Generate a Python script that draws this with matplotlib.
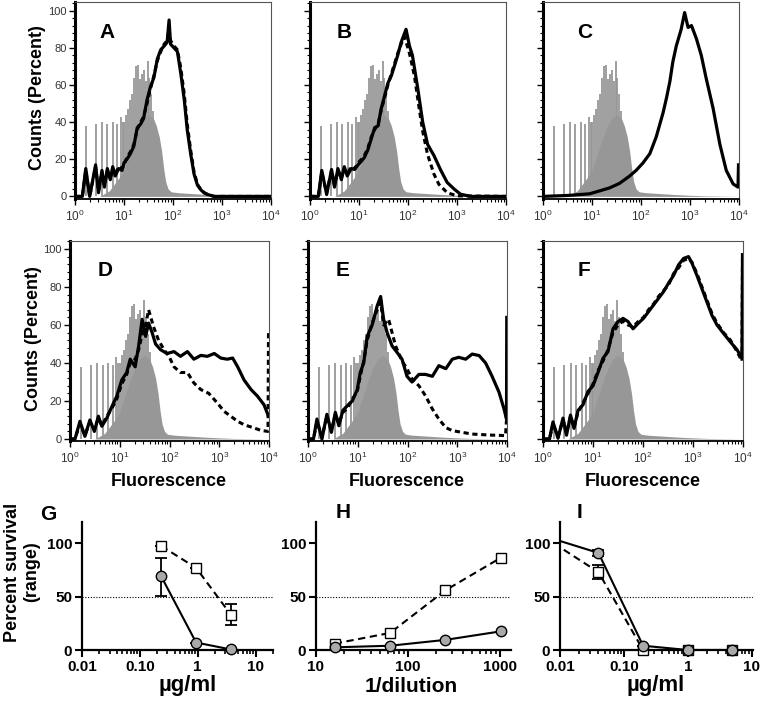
import numpy as np
import matplotlib
matplotlib.use("Agg")
import matplotlib.pyplot as plt
from matplotlib.ticker import LogLocator, NullFormatter, FixedLocator, FixedFormatter, MultipleLocator

# ---- flow histograms: log10(fluorescence) and counts (percent) ----
# shaded control histogram (same in every panel): smooth body + comb of spikes
ctrl_lx = [0.00, 0.50, 0.70, 0.90, 1.00, 1.10, 1.20, 1.30, 1.40, 1.50, 1.60, 1.66, 1.72, 1.77,
           1.81, 1.85, 1.90, 1.96, 2.10, 2.40, 2.70, 3.00, 3.30, 4.00]
ctrl_y = [0, 0, 3, 10, 14, 22, 30, 37, 42, 44, 42, 38, 32, 24, 15, 8, 4, 2.5, 2, 1.5, 1, 0.6,
          0.3, 0]
spike_lx = [0.22, 0.42, 0.55, 0.66, 0.77, 0.86, 0.93, 0.97, 1.00, 1.04, 1.08, 1.12, 1.16, 1.20,
            1.24, 1.28, 1.32, 1.36, 1.40, 1.44, 1.48, 1.52, 1.56, 1.60]
spike_h = [38, 39, 40, 39, 40, 39, 43, 40, 40, 44, 47, 52, 55, 64, 70, 71, 63, 66, 68, 62, 73,
           64, 55, 46]

a_lx = [0.00, 0.15, 0.22, 0.30, 0.42, 0.48, 0.55, 0.60, 0.66, 0.72, 0.77, 0.82, 0.89, 0.96, 1.00,
        1.06, 1.13, 1.20, 1.27, 1.34, 1.40, 1.47, 1.54, 1.61, 1.68, 1.75, 1.82, 1.88, 1.92, 1.95,
        2.02, 2.09, 2.16, 2.23, 2.29, 2.36, 2.43, 2.50, 2.57, 2.64, 2.71, 2.84, 4.00]
a_solid = [0, 0, 15, 0, 17, 2, 14, 5, 15, 9, 16, 11, 15, 14, 18, 20, 23, 27, 37, 39, 42, 52, 59,
           64, 74, 79, 81, 83, 95, 82, 80, 78, 66, 52, 36, 23, 12, 6, 3.5, 1.8, 1, 0, 0]
a_dash = [0, 0, 14, 0, 16, 3, 13, 6, 14, 10, 15, 12, 16, 15, 17, 21, 24, 28, 36, 40, 43, 50, 58,
          65, 73, 78, 82, 84, 90, 84, 81, 79, 69, 55, 39, 25, 13, 6.5, 3.5, 2, 1, 0, 0]

b_lx = [0.00, 0.17, 0.24, 0.34, 0.44, 0.50, 0.57, 0.64, 0.70, 0.76, 0.84, 0.91, 0.98, 1.05, 1.11,
        1.18, 1.25, 1.32, 1.39, 1.45, 1.52, 1.59, 1.66, 1.72, 1.79, 1.86, 1.96, 2.03, 2.09, 2.20,
        2.30, 2.40, 2.53, 2.67, 2.80, 2.94, 3.07, 3.28, 4.00]
b_solid = [0, 0, 14, 1, 14.5, 5, 15, 9, 16, 11, 15, 14.5, 17, 19, 21, 25, 31, 37, 38, 47, 54, 61,
           65, 70, 76, 83, 90, 81, 76, 58, 40, 28, 22, 14, 7.5, 4, 1.2, 0, 0]
b_dash_lx = [0.00, 0.17, 0.24, 0.34, 0.44, 0.50, 0.57, 0.64, 0.70, 0.76, 0.84, 0.91, 0.98, 1.05,
             1.11, 1.18, 1.25, 1.32, 1.39, 1.45, 1.52, 1.59, 1.66, 1.72, 1.79, 1.86, 1.93, 2.03,
             2.13, 2.23, 2.30, 2.40, 2.53, 2.63, 2.80, 3.00, 4.00]
b_dash = [0, 0, 13, 2, 14, 6, 14, 10, 15, 12, 16, 15, 18, 20, 22, 26, 32, 36, 39, 46, 53, 60, 66,
          71, 77, 82, 86, 77, 65, 47, 35, 22.5, 12, 6.5, 2, 0.3, 0]

c_lx = [0.00, 0.50, 0.95, 1.16, 1.36, 1.56, 1.77, 1.90, 2.04, 2.18, 2.31, 2.45, 2.52, 2.59, 2.65,
        2.72, 2.82, 2.89, 2.96, 3.03, 3.13, 3.23, 3.33, 3.47, 3.61, 3.74, 3.88, 3.98, 3.99]
c_solid = [0, 0.5, 1.4, 3, 4.6, 7, 11, 14, 18, 23, 32, 45, 53, 62, 72.5, 81, 90, 99, 91, 92,
           85, 76, 63.6, 47.6, 28, 14, 6.7, 5, 17]

d_lx = [0.00, 0.10, 0.20, 0.30, 0.40, 0.49, 0.57, 0.64, 0.74, 0.84, 0.94, 1.04, 1.14, 1.21, 1.31,
        1.38, 1.45, 1.52, 1.58, 1.65, 1.72, 1.82, 1.95, 2.09, 2.22, 2.36, 2.49, 2.63, 2.76, 2.90,
        3.03, 3.16, 3.27, 3.37, 3.50, 3.64, 3.77, 3.90, 3.99]
d_solid = [0, 0, 9.3, 1.4, 10, 4, 12, 6.7, 11, 17, 22.5, 31, 35, 42, 38, 49, 63, 54, 61, 56, 50,
           47, 45, 46, 43.5, 46, 42, 44, 43.5, 45, 42.6, 42, 42.6, 38, 31, 26, 22.5, 18, 12]
d_dash_lx = [0.00, 0.10, 0.20, 0.30, 0.40, 0.49, 0.57, 0.64, 0.74, 0.84, 0.94, 1.04, 1.14, 1.21,
             1.31, 1.38, 1.45, 1.52, 1.58, 1.68, 1.78, 1.89, 1.99, 2.09, 2.22, 2.36, 2.49, 2.63,
             2.79, 2.96, 3.10, 3.23, 3.37, 3.50, 3.70, 3.84, 3.98, 3.99]
d_dash = [0, 0, 8, 2, 9, 5, 11, 7, 12, 16, 21, 29, 34, 40, 42, 47, 55, 60, 68, 59, 52, 47, 43.5,
          38, 35, 35, 29.5, 26, 24, 19, 14.5, 12, 9.3, 7.5, 5.8, 4.5, 4, 56]

e_lx = [0.00, 0.11, 0.18, 0.28, 0.38, 0.47, 0.55, 0.62, 0.70, 0.79, 0.89, 0.99, 1.05, 1.12, 1.19,
        1.29, 1.39, 1.46, 1.52, 1.59, 1.69, 1.79, 1.89, 1.99, 2.09, 2.23, 2.36, 2.50, 2.63, 2.77,
        2.90, 3.03, 3.17, 3.30, 3.44, 3.57, 3.70, 3.84, 3.94, 3.99, 3.995]
e_solid = [0, 0, 10.5, 0, 13, 3.5, 14, 7, 15, 17.5, 20, 26, 35, 40, 54, 60, 70, 75, 63, 56, 49,
           45.6, 42, 33, 30, 34, 34, 33, 38.6, 37, 42, 43, 42, 44.7, 43.9, 40, 33, 24.6, 15.8,
           10.5, 64]
e_dash_lx = [0.00, 0.11, 0.18, 0.28, 0.38, 0.47, 0.55, 0.62, 0.70, 0.79, 0.89, 0.99, 1.05, 1.12,
             1.19, 1.29, 1.39, 1.46, 1.52, 1.62, 1.76, 1.89, 1.99, 2.09, 2.23, 2.36, 2.50, 2.63,
             2.77, 2.90, 3.10, 3.30, 3.64, 3.97, 3.99]
e_dash = [0, 0, 9, 1, 12, 4, 13, 8, 14, 16, 21, 25, 33, 41, 52, 61, 68, 72, 60, 63, 49, 41, 37,
          31.6, 28, 22.8, 15.8, 10.5, 6, 4.4, 3.5, 2.6, 2.1, 1.8, 10]

f_lx = [0.00, 0.13, 0.20, 0.30, 0.40, 0.47, 0.55, 0.62, 0.70, 0.80, 0.90, 1.00, 1.10, 1.20, 1.30,
        1.40, 1.50, 1.60, 1.70, 1.80, 1.91, 2.01, 2.11, 2.21, 2.31, 2.41, 2.51, 2.61, 2.71, 2.81,
        2.91, 2.98, 3.08, 3.18, 3.28, 3.38, 3.48, 3.61, 3.75, 3.88, 3.98, 3.99]
f_solid = [0, 0, 9, 0.4, 11, 2, 12.6, 5.6, 15, 18, 25, 28, 35, 42.5, 46, 58, 61.8, 63.5, 61.8, 58,
           61, 63.5, 67, 70.5, 74, 77.5, 82, 86, 91.6, 95, 96, 92.5, 86, 79, 72, 65, 60, 55.6,
           51, 47, 42.5, 97]
f_dash = [0, 0, 8, 1, 10, 3, 12, 6, 14, 19, 24, 29, 36, 41, 47, 56, 60, 62, 60, 59, 62, 64, 68,
          71, 75, 78, 81, 87, 90, 94, 95, 93, 87, 80, 73, 66, 61, 56, 52, 46, 41, 97]

hist_ticks = [1, 10, 100, 1000, 10000]
count_ticks = [0, 20, 40, 60, 80, 100]

# ---- survival panels ----
g_x = [0.234, 0.938, 3.75]
g_sq = [97.5, 77, 33]
g_sq_lo = [97.5, 77, 23]
g_sq_hi = [97.5, 77, 43]
g_ci = [69, 7, 0.5]
g_ci_lo = [51, 7, 0.5]
g_ci_hi = [86, 7, 0.5]

h_x = [16, 64, 256, 1024]
h_sq = [6, 16, 56, 86.5]
h_ci = [2.5, 4, 9.5, 17.5]

i_x = [0.008, 0.04, 0.2, 1, 5]
i_sq = [100, 73, 0, 0, 0]
i_sq_lo = [100, 67, 0, 0, 0]
i_sq_hi = [100, 80, 0, 0, 0]
i_ci = [104, 91, 4, 0, 0]
i_ci_lo = [104, 88, 4, 0, 0]
i_ci_hi = [104, 94, 4, 0, 0]

surv_ticks = [0, 50, 100]
ug_ticks = [0.01, 0.1, 1, 10]
ug_labels = ["0.01", "0.10", "1", "10"]
dil_ticks = [10, 100, 1000]
dil_labels = ["10", "100", "1000"]

plt.rcParams['font.family'] = ['Liberation Sans', 'DejaVu Sans']
plt.rcParams['mathtext.fontset'] = 'custom'
plt.rcParams['mathtext.rm'] = 'Liberation Sans'
plt.rcParams['mathtext.it'] = 'Liberation Sans:italic'
plt.rcParams['mathtext.bf'] = 'Liberation Sans:bold'

W, H = 760, 705
GRAY = '#979797'
fig = plt.figure(figsize=(W / 100, H / 100), dpi=100)


def px_axes(l, t, r, b):
    return fig.add_axes([l / W, 1 - b / H, (r - l) / W, (b - t) / H])


def ftext(x, y, s, **kw):
    fig.text(x / W, 1 - y / H, s, ha='center', va='center', fontweight='bold', **kw)


def histo(ax, ylim, solid, dashed=None, ylabels=False):
    ax.fill_between(10 ** np.array(ctrl_lx), ctrl_y, color=GRAY, lw=0, zorder=1)
    ax.vlines(10 ** np.array(spike_lx), 0, spike_h, color=GRAY, lw=1.3, zorder=1)
    if dashed is not None:
        ax.plot(10 ** np.array(dashed[0]), dashed[1], color='k', lw=2.2,
                ls=(0, (1.7, 1.2)), zorder=2)
    ax.plot(10 ** np.array(solid[0]), solid[1], color='k', lw=2.3, zorder=3)
    ax.set_xscale('log')
    ax.set_xlim(1, 1e4)
    ax.set_ylim(*ylim)
    ax.xaxis.set_major_locator(FixedLocator(hist_ticks))
    ax.xaxis.set_minor_locator(LogLocator(base=10, subs=np.arange(2, 10)))
    ax.xaxis.set_minor_formatter(NullFormatter())
    ax.yaxis.set_major_locator(FixedLocator(count_ticks))
    ax.yaxis.set_minor_locator(MultipleLocator(4))
    if not ylabels:
        ax.set_yticklabels([])
    ax.tick_params(which='major', direction='out', length=4, width=1, labelsize=8,
                   labelcolor='#333333', pad=2)
    ax.tick_params(which='minor', direction='out', length=2.2, width=0.8)
    ax.tick_params(axis='x', which='major', labelsize=8.5, pad=3)
    ax.spines['left'].set_linewidth(2.2)
    ax.spines['bottom'].set_linewidth(1.3)
    for s in ['top', 'right']:
        ax.spines[s].set_linewidth(0.8)
        ax.spines[s].set_color('#555555')


top_lim = (-1.4, 104.7)
mid_lim = (-1.05, 104.2)

ax_a = px_axes(75, 2, 271, 199)
histo(ax_a, top_lim, (a_lx, a_solid), (a_lx, a_dash), ylabels=True)
ax_b = px_axes(310, 2, 506, 199)
histo(ax_b, top_lim, (b_lx, b_solid), (b_dash_lx, b_dash))
ax_c = px_axes(543, 2, 739, 199)
histo(ax_c, top_lim, (c_lx, c_solid))

ax_d = px_axes(70, 241, 269, 441)
histo(ax_d, mid_lim, (d_lx, d_solid), (d_dash_lx, d_dash), ylabels=True)
ax_e = px_axes(308, 241, 507, 441)
histo(ax_e, mid_lim, (e_lx, e_solid), (e_dash_lx, e_dash))
ax_f = px_axes(543, 241, 743, 441)
histo(ax_f, mid_lim, (f_lx, f_solid), (f_lx, f_dash))

for (x, y, s) in [(107, 32, 'A'), (344, 32, 'B'), (585, 32, 'C'),
                  (105, 270, 'D'), (343, 270, 'E'), (584, 270, 'F')]:
    ftext(x, y, s, fontsize=15)

ftext(38, 98, 'Counts (Percent)', fontsize=13, rotation=90)
ftext(33, 339, 'Counts (Percent)', fontsize=13, rotation=90)
for x in [169, 407, 643]:
    ftext(x, 482, 'Fluorescence', fontsize=13)


def survival(ax, xlim, ticks, labels):
    ax.set_xscale('log')
    ax.set_xlim(*xlim)
    ax.set_ylim(0, 120)
    ax.axhline(50, color='k', lw=0.8, ls=(0, (1, 1.5)), zorder=1)
    ax.xaxis.set_major_locator(FixedLocator(ticks))
    ax.xaxis.set_major_formatter(FixedFormatter(labels))
    ax.xaxis.set_minor_locator(LogLocator(base=10, subs=np.arange(2, 10)))
    ax.xaxis.set_minor_formatter(NullFormatter())
    ax.yaxis.set_major_locator(FixedLocator(surv_ticks))
    ax.yaxis.set_minor_locator(FixedLocator([]))
    for s in ['top', 'right']:
        ax.spines[s].set_visible(False)
    for s in ['left', 'bottom']:
        ax.spines[s].set_linewidth(1.6)
    ax.tick_params(which='major', direction='out', length=5, width=1.5, labelsize=11, pad=2)
    ax.tick_params(which='minor', direction='out', length=3, width=1.2)
    for lab in ax.get_xticklabels() + ax.get_yticklabels():
        lab.set_fontweight('bold')


def series(ax, x, y, lo, hi, marker, dashed, xmin):
    x = np.array(x, float)
    y = np.array(y, float)
    ls = (0, (3.5, 2.2)) if dashed else '-'
    ax.plot(x, y, color='k', lw=1.5, ls=ls, zorder=3)
    keep = x >= xmin
    if lo is not None:
        lo = np.array(lo, float)
        hi = np.array(hi, float)
        ax.errorbar(x[keep], y[keep], yerr=[y[keep] - lo[keep], hi[keep] - y[keep]],
                    fmt='none', ecolor='k', elinewidth=1.3, capsize=4, capthick=1.3,
                    zorder=4, clip_on=False)
    if marker == 'o':
        ax.plot(x[keep], y[keep], 'o', ms=7.5, mfc='#a9a9a9', mec='k', mew=1.0,
                zorder=6, clip_on=False)
    else:
        ax.plot(x[keep], y[keep], 's', ms=6.8, mfc='white', mec='k', mew=1.0,
                zorder=5, clip_on=False)


ax_g = px_axes(82, 522, 273, 650)
survival(ax_g, (0.01, 20), ug_ticks, ug_labels)
series(ax_g, g_x, g_sq, g_sq_lo, g_sq_hi, 's', True, 0.01)
series(ax_g, g_x, g_ci, g_ci_lo, g_ci_hi, 'o', False, 0.01)

ax_h = px_axes(316, 522, 511, 650)
survival(ax_h, (10, 1320), dil_ticks, dil_labels)
series(ax_h, h_x, h_sq, None, None, 's', True, 10)
series(ax_h, h_x, h_ci, None, None, 'o', False, 10)

ax_i = px_axes(560, 522, 753, 650)
survival(ax_i, (0.01, 10.5), ug_ticks, ug_labels)
series(ax_i, i_x, i_sq, i_sq_lo, i_sq_hi, 's', True, 0.01)
series(ax_i, i_x, i_ci, i_ci_lo, i_ci_hi, 'o', False, 0.01)

ftext(48, 515, 'G', fontsize=15)
ftext(343, 513, 'H', fontsize=15)
ftext(580, 513, 'I', fontsize=15)
ftext(22, 572, 'Percent survival\n(range)', fontsize=13, rotation=90)
ftext(188, 686, 'µg/ml', fontsize=16)
ftext(411, 686, '1/dilution', fontsize=15)
ftext(656, 686, 'µg/ml', fontsize=16)

fig.savefig('out.png', dpi=100)
